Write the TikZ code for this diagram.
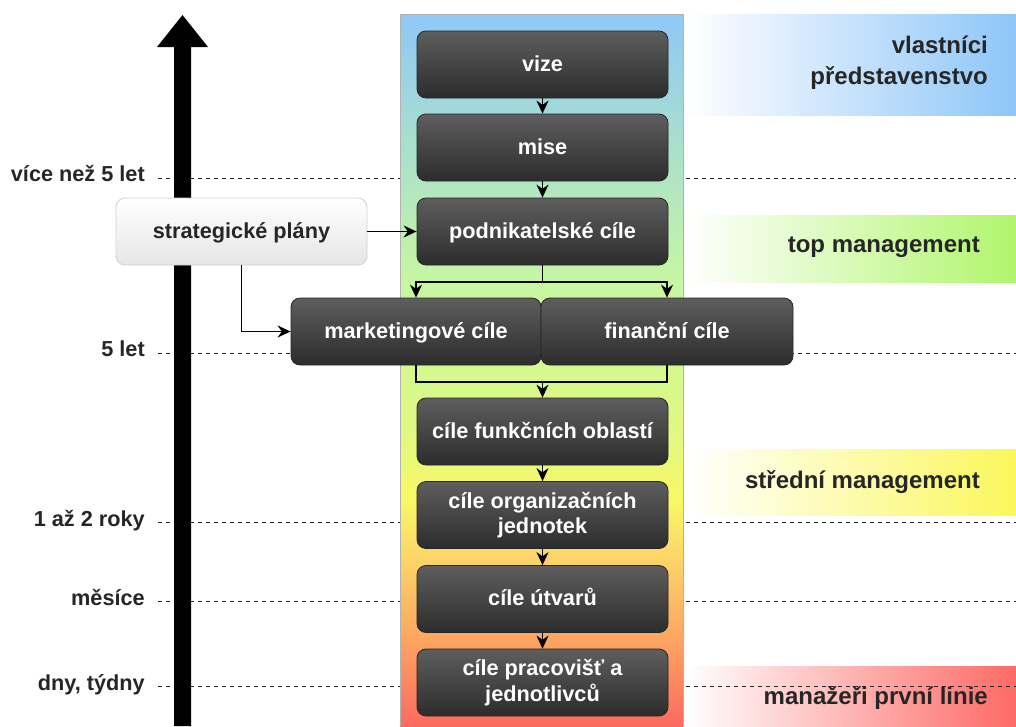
\documentclass[tikz,border=0pt]{standalone}
\usepackage{fontspec}
\setmainfont{Liberation Sans}
\usetikzlibrary{arrows.meta}
\definecolor{cBlue}{HTML}{8EC8F6}
\definecolor{cGreen}{HTML}{C6F7A2}
\definecolor{cYG}{HTML}{E0F882}
\definecolor{cYellow}{HTML}{F8F866}
\definecolor{cLtOrange}{HTML}{FCD468}
\definecolor{cOrange}{HTML}{FCA462}
\definecolor{cRed}{HTML}{FC6A60}
\definecolor{bandBlue}{HTML}{8EC6F8}
\definecolor{bandGreen}{HTML}{B0F56C}
\definecolor{bandYellow}{HTML}{FAF75A}
\definecolor{bandRed}{HTML}{FD6A66}
\definecolor{boxTop}{HTML}{5E5E5E}
\definecolor{boxBot}{HTML}{2C2C2C}
\pgfdeclareverticalshading{colgrad}{100bp}{color(0bp)=(cRed); color(25bp)=(cRed); color(31bp)=(cOrange); color(36.7bp)=(cLtOrange); color(40.9bp)=(cYellow); color(45.8bp)=(cYG); color(56.2bp)=(cGreen); color(75bp)=(cBlue); color(100bp)=(cBlue)}
\begin{document}
\begin{tikzpicture}[x=1pt,y=-1pt,
  every node/.style={font=\fontsize{21.7}{25.5}\selectfont\bfseries},
  dbox/.style={rounded corners=9pt, minimum width=251pt, minimum height=67pt, inner sep=0pt,
    top color=boxTop, bottom color=boxBot, draw=black!85, line width=0.8pt, text=white, align=center},
  one/.style={text height=16.5pt, text depth=3.5pt},
  lbox/.style={rounded corners=9pt, minimum width=251pt, minimum height=67pt, inner sep=0pt,
    top color=white, bottom color=black!10, draw=black!18, line width=0.8pt, text=black!85, align=center},
  conn/.style={line width=1.3pt, -{Stealth[length=13pt,width=12pt]}},
  plain/.style={line width=1.3pt},
  tline/.style={dashed, dash pattern=on 4pt off 4pt, line width=1pt, black!85},
  tlabel/.style={anchor=base east, text=black!85, inner sep=0pt},
  blabel/.style={anchor=east, text=black!85, inner sep=0pt, font=\fontsize{24}{28}\selectfont\bfseries}]
\useasboundingbox (0,0) rectangle (1016,726);
% bands on the right
\fill[left color=white, right color=bandBlue] (685,14) rectangle (1016,115);
\fill[left color=white, right color=bandGreen] (685,215) rectangle (1016,282);
\fill[left color=white, right color=bandYellow] (685,449) rectangle (1016,515);
\fill[left color=white, right color=bandRed] (685,666) rectangle (1016,726);
% time lines
\foreach \y in {178,353,522,601,686}{
  \draw[tline] (158,\y) -- (1016,\y);
}
% central column
\fill[shading=colgrad] (400,14) rectangle (683,726);
\draw[black!30, line width=0.8pt] (400,726) -- (400,14) -- (683,14) -- (683,726);
% time arrow
\fill[black] (174,726) -- (174,47) -- (157,47) -- (182.5,15) -- (208,47) -- (191,47) -- (191,726) -- cycle;
% boxes
\node[dbox, one] (vize) at (542.5,64.5) {vize};
\node[dbox, one] (mise) at (542.5,147.5) {mise};
\node[dbox, one] (podn) at (542.5,231.5) {podnikatelské cíle};
\node[lbox, one] (strat) at (241.5,231.5) {strategické plány};
\node[dbox, one, minimum width=250pt] (mark) at (416,331.5) {marketingové cíle};
\node[dbox, one, minimum width=252pt] (fin) at (667,331.5) {finanční cíle};
\node[dbox, one] (funk) at (542.5,431.5) {cíle funkčních oblastí};
\node[dbox] (org) at (542.5,515) {cíle organizačních\\jednotek};
\node[dbox, one] (utv) at (542.5,599) {cíle útvarů};
\node[dbox] (prac) at (542.5,682.5) {cíle pracovišť a\\jednotlivců};
% connectors
\coordinate (split) at (542.5,282);
\coordinate (merge) at (542.5,382);
\draw[conn] (vize) -- (mise);
\draw[conn] (mise) -- (podn);
\draw[conn] (strat) -- (podn);
\draw[conn] (strat.south) |- (mark.west);
\draw[plain] (podn.south) -- (split);
\draw[conn] (split) -| (mark.north);
\draw[conn] (split) -| (fin.north);
\draw[plain] (mark.south) |- (merge);
\draw[plain] (fin.south) |- (merge);
\draw[conn] (merge) -- (funk.north);
\draw[conn] (funk) -- (org);
\draw[conn] (org) -- (utv);
\draw[conn] (utv) -- (prac);
% time labels
\node[tlabel] (t1) at (145,181) {více než 5 let};
\node[tlabel] (t2) at (145,356) {5 let};
\node[tlabel] (t3) at (145,526) {1 až 2 roky};
\node[tlabel] (t4) at (145,605) {měsíce};
\node[tlabel] (t5) at (145,690) {dny, týdny};
% band labels
\node[blabel] (b1) at (988,45) {vlastníci};
\node[blabel] (b2) at (988,78) {představenstvo};
\node[blabel] (b3) at (980,247) {top management};
\node[blabel] (b4) at (980,482) {střední management};
\node[blabel] (b5) at (988,698) {manažeři první linie};
\end{tikzpicture}
\end{document}
